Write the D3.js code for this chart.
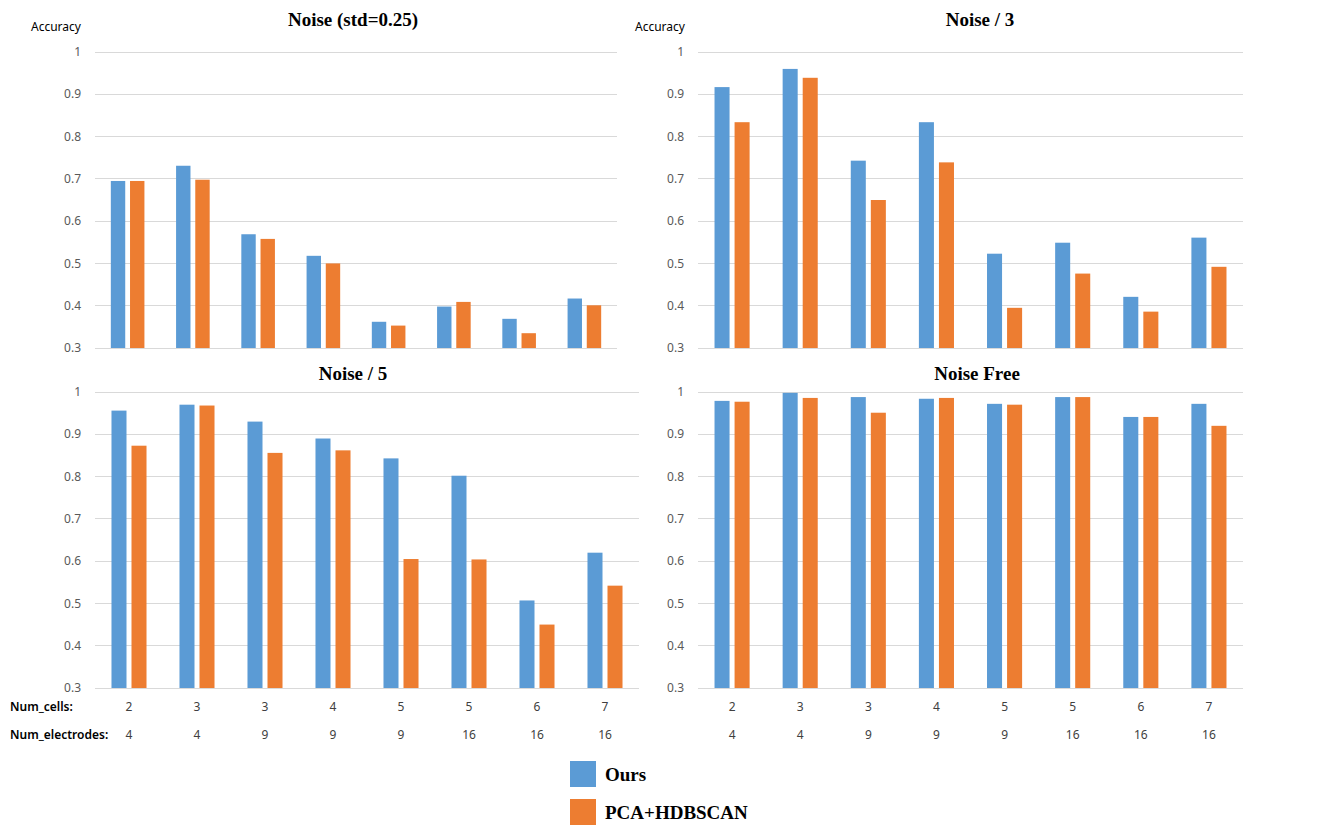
<!DOCTYPE html>
<html>
<head>
<meta charset="utf-8">
<script src="https://cdn.jsdelivr.net/npm/d3@7"></script>
<style>
  html, body { margin: 0; padding: 0; background: #fff; }
  svg { display: block; }
</style>
</head>
<body>
<svg id="chart" width="1338" height="835"></svg>
<script>
// ---- data ----
const categories = ["c1","c2","c3","c4","c5","c6","c7","c8"];
const numCells = ["2","3","3","4","5","5","6","7"];
const numElectrodes = ["4","4","9","9","9","16","16","16"];
const seriesNames = ["Ours", "PCA+HDBSCAN"];
const yTicks = [0.3, 0.4, 0.5, 0.6, 0.7, 0.8, 0.9, 1];

const noise025Ours = [0.695, 0.731, 0.569, 0.518, 0.362, 0.398, 0.369, 0.417];
const noise025Pca  = [0.695, 0.698, 0.558, 0.500, 0.353, 0.409, 0.335, 0.401];
const noise3Ours   = [0.917, 0.960, 0.743, 0.834, 0.523, 0.549, 0.421, 0.561];
const noise3Pca    = [0.834, 0.939, 0.650, 0.739, 0.395, 0.476, 0.386, 0.492];
const noise5Ours   = [0.956, 0.970, 0.930, 0.890, 0.843, 0.802, 0.507, 0.620];
const noise5Pca    = [0.873, 0.968, 0.856, 0.862, 0.605, 0.604, 0.450, 0.542];
const freeOurs     = [0.979, 0.998, 0.988, 0.984, 0.972, 0.988, 0.941, 0.972];
const freePca      = [0.977, 0.986, 0.951, 0.986, 0.970, 0.988, 0.941, 0.920];

const colors = ["#5B9BD5", "#ED7D31"];

const panels = [
  {title: "Noise (std=0.25)", ours: noise025Ours, pca: noise025Pca, x0: 95, x1: 617, yTop: 52, yBot: 348, titleX: 353, titleY: 26, accX: 31, showAcc: true, showCats: false},
  {title: "Noise / 3", ours: noise3Ours, pca: noise3Pca, x0: 698, x1: 1243, yTop: 52, yBot: 348, titleX: 980, titleY: 26, accX: 635, showAcc: true, showCats: false},
  {title: "Noise / 5", ours: noise5Ours, pca: noise5Pca, x0: 95, x1: 639, yTop: 392, yBot: 688, titleX: 353, titleY: 380, showAcc: false, showCats: true, rowLabels: true},
  {title: "Noise Free", ours: freeOurs, pca: freePca, x0: 698, x1: 1243, yTop: 392, yBot: 688, titleX: 977, titleY: 380, showAcc: false, showCats: true, rowLabels: false}
];

const svg = d3.select("#chart");
const tickFont = "'Noto Sans', 'Open Sans', sans-serif";

panels.forEach(p => {
  const g = svg.append("g");
  const x = d3.scaleBand().domain(categories).range([p.x0, p.x1]).paddingInner(0.485).paddingOuter(0.2425);
  const xs = d3.scaleBand().domain(seriesNames).range([0, x.bandwidth()]).paddingInner(0.25);
  const y = d3.scaleLinear().domain([0.3, 1]).range([p.yBot, p.yTop]);

  // gridlines
  g.selectAll("line.grid").data(yTicks).join("line")
    .attr("x1", p.x0).attr("x2", p.x1)
    .attr("y1", d => y(d)).attr("y2", d => y(d))
    .attr("stroke", "#d9d9d9").attr("stroke-width", 1).attr("shape-rendering", "crispEdges");

  // y tick labels
  g.selectAll("text.yt").data(yTicks).join("text")
    .attr("x", p.x0 - 14).attr("y", d => y(d)).attr("dy", "0.35em")
    .attr("text-anchor", "end")
    .attr("font-family", tickFont).attr("font-size", 12).attr("fill", "#595959")
    .text(d => d3.format("")(+d.toFixed(1)));

  // bars
  const series = [p.ours, p.pca];
  series.forEach((vals, si) => {
    g.selectAll("rect.s" + si).data(vals).join("rect")
      .attr("x", (d, i) => x(categories[i]) + xs(seriesNames[si]))
      .attr("width", xs.bandwidth())
      .attr("y", d => y(d))
      .attr("height", d => y(0.3) - y(d))
      .attr("fill", colors[si]);
  });

  // title
  g.append("text")
    .attr("x", p.titleX).attr("y", p.titleY)
    .attr("text-anchor", "middle")
    .attr("font-family", "'Liberation Serif', 'Times New Roman', serif")
    .attr("font-weight", "bold").attr("font-size", 19).attr("fill", "#000")
    .text(p.title);

  if (p.showAcc) {
    g.append("text")
      .attr("x", p.accX).attr("y", 31)
      .attr("font-family", tickFont).attr("font-size", 12).attr("fill", "#000")
      .text("Accuracy");
  }

  if (p.showCats) {
    g.selectAll("text.nc").data(numCells).join("text")
      .attr("x", (d, i) => x(categories[i]) + x.bandwidth() / 2)
      .attr("y", 707).attr("dy", "0.35em").attr("text-anchor", "middle")
      .attr("font-family", tickFont).attr("font-size", 12).attr("fill", "#404040")
      .text(d => d);
    g.selectAll("text.ne").data(numElectrodes).join("text")
      .attr("x", (d, i) => x(categories[i]) + x.bandwidth() / 2)
      .attr("y", 735).attr("dy", "0.35em").attr("text-anchor", "middle")
      .attr("font-family", tickFont).attr("font-size", 12).attr("fill", "#404040")
      .text(d => d);
  }
  if (p.rowLabels) {
    g.append("text").attr("x", 10).attr("y", 707).attr("dy", "0.35em")
      .attr("font-family", tickFont).attr("font-size", 12).attr("font-weight", 600).attr("fill", "#000")
      .text("Num_cells:");
    g.append("text").attr("x", 10).attr("y", 735).attr("dy", "0.35em")
      .attr("font-family", tickFont).attr("font-size", 12).attr("font-weight", 600).attr("fill", "#000")
      .text("Num_electrodes:");
  }
});

// legend
const legend = svg.append("g");
seriesNames.forEach((name, i) => {
  const ly = 761 + i * 38;
  legend.append("rect").attr("x", 570).attr("y", ly).attr("width", 26).attr("height", 26).attr("fill", colors[i]);
  legend.append("text").attr("x", 605).attr("y", ly + 13).attr("dy", "0.35em")
    .attr("font-family", "'Liberation Serif', 'Times New Roman', serif")
    .attr("font-weight", "bold").attr("font-size", 19).attr("fill", "#000")
    .text(name);
});
</script>
</body>
</html>
